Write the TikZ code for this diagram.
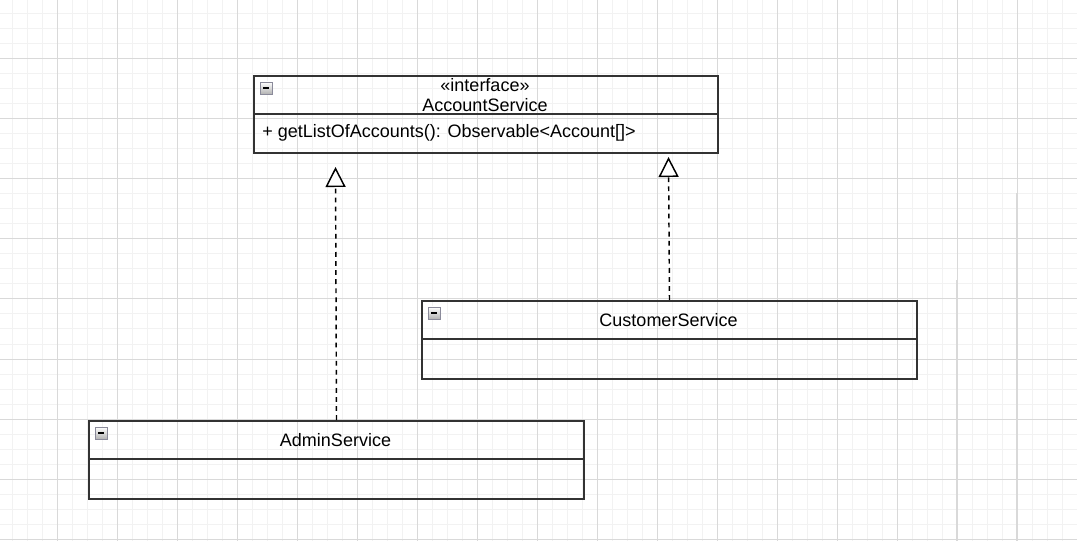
\documentclass[tikz,border=0pt]{standalone}
\usepackage{fontspec}
\setmainfont{Liberation Sans}
\usetikzlibrary{arrows.meta}
\definecolor{gridminor}{HTML}{F2F2F2}
\definecolor{gridmajor}{HTML}{D9D9D9}
\definecolor{boxline}{HTML}{333333}
\definecolor{iconline}{HTML}{8A8A9A}
\tikzset{
  classbox/.style={draw=boxline, line width=1.5pt, rectangle, inner sep=0pt, anchor=north west, minimum width=371.25pt, minimum height=58.5pt},
  divider/.style={draw=boxline, line width=1.5pt},
  lbl/.style={inner sep=0pt, font=\fontsize{13.5}{16.5}\selectfont, text=black},
  realize/.style={draw=black, line width=1.1pt, dash pattern=on 3.6pt off 3.2pt, -{Triangle[open, width=15pt, length=15pt, line width=1.1pt, fill=white]}},
  minusicon/.pic={
    \shade[top color=white, bottom color=black!30, draw=iconline, line width=0.7pt] (0,0) rectangle (12,12);
    \draw[black, line width=1.6pt] (3,6) -- (9,6);
  }
}
\begin{document}
\begin{tikzpicture}[x=0.75pt, y=-0.75pt]
\useasboundingbox (0,0) rectangle (1077,541);
\fill[white] (0,0) rectangle (1077,541);
% grid
\foreach \x in {12,27,...,1077} \draw[gridminor, line width=0.75pt] (\x,0) -- (\x,541);
\foreach \y in {14,29,...,541} \draw[gridminor, line width=0.75pt] (0,\y) -- (1077,\y);
\foreach \x in {57,117,...,1077} \draw[gridmajor, line width=0.75pt] (\x,0) -- (\x,541);
\foreach \y in {59,119,...,541} \draw[gridmajor, line width=0.75pt] (0,\y) -- (1077,\y);
\draw[gridmajor, line width=1.3pt] (957,280) -- (957,541);
\draw[gridmajor, line width=1.3pt] (1017,193) -- (1017,541);

% AccountService
\node[classbox, minimum width=348pt, minimum height=57.75pt] (acc) at (253,75) {};
\draw[divider] (253,114) -- (717,114);
\path (260,82) pic{minusicon};
\node[lbl] (accst) at (485,85) {«interface»};
\node[lbl] (accname) at (485,105) {AccountService};
\node[lbl, anchor=west] (accm) at (262,133) {+ getListOfAccounts(): Observable<Account[]>};

% CustomerService
\node[classbox] (cus) at (421,300) {};
\draw[divider] (421,339) -- (916,339);
\path (428,307) pic{minusicon};
\node[lbl] (cusname) at (668.5,320) {CustomerService};

% AdminService
\node[classbox] (adm) at (88,420) {};
\draw[divider] (88,459) -- (583,459);
\path (95,427) pic{minusicon};
\node[lbl] (admname) at (335.5,440) {AdminService};

% realization tips (free ends)
\coordinate (tipA) at (335.5,167);
\coordinate (tipC) at (668.5,157);
\draw[realize] (adm.north) -- (tipA);
\draw[realize] (cus.north) -- (tipC);
\end{tikzpicture}
\end{document}
